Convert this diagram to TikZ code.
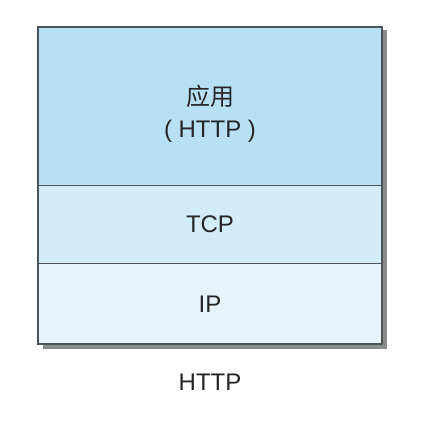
\documentclass[tikz,border=0pt]{standalone}
\usepackage{fontspec}
\setmainfont{Liberation Sans}
\newfontfamily\cjk{Noto Sans CJK SC}
\definecolor{appblue}{HTML}{B8E0F4}
\definecolor{tcpblue}{HTML}{D2ECF8}
\definecolor{ipblue}{HTML}{E6F4FA}
\definecolor{edgegray}{HTML}{4A5458}
\definecolor{shadowgray}{HTML}{8A8C8C}
\tikzset{
    layertext/.style={font=\fontsize{24}{28}\selectfont, text=black!85},
}
\begin{document}
\begin{tikzpicture}[x=1pt,y=-1pt]
            \useasboundingbox (0,0) rectangle (422,423);
            \fill[shadowgray] (43,30) rectangle (387,349);
            \fill[appblue] (38,27) rectangle (382,185);
            \fill[tcpblue] (38,185) rectangle (382,263);
            \fill[ipblue] (38,263) rectangle (382,344);
            \draw[edgegray, line width=1.2pt] (38,27) rectangle (382,344);
            \draw[edgegray, line width=1pt] (38,185) -- (382,185);
            \draw[edgegray, line width=1pt] (38,263) -- (382,263);
            \node[layertext] (app) at (210,96) {\cjk 应用};
            \node[layertext] (http) at (210,131) {( HTTP )};
            \node[layertext] (tcp) at (210,224) {TCP};
            \node[layertext] (ip) at (210,304) {IP};
            \node[layertext] (label) at (210,382) {HTTP};
        \end{tikzpicture}
\end{document}
